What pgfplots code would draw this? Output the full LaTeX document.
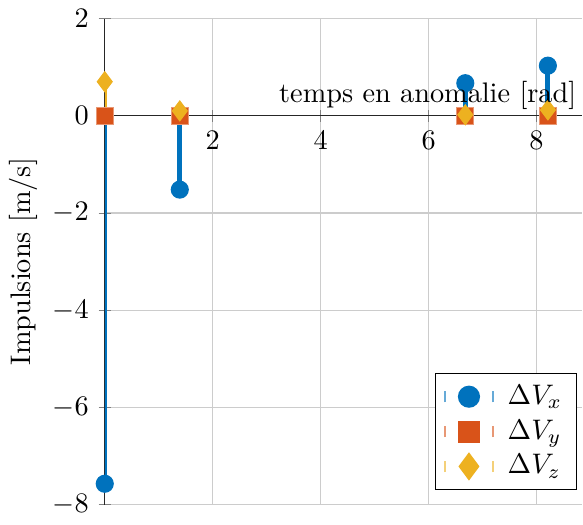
\documentclass[border=0pt]{standalone}
\usepackage{pgfplots}
\pgfplotsset{compat=1.18}
\definecolor{mycolor1}{rgb}{0,0.447,0.741}
\definecolor{mycolor2}{rgb}{0.85,0.325,0.098}
\definecolor{mycolor3}{rgb}{0.929,0.694,0.125}
\begin{document}
\begin{tikzpicture}
\begin{axis}[
  width=169pt, height=172pt, scale only axis,
  xmin=0, xmax=8.85, ymin=-8, ymax=2,
  axis x line=middle, axis y line=left,
  axis line style={-, black!85},
  xtick={2,4,6,8}, ytick={-8,-6,-4,-2,0,2},
  xmajorgrids, ymajorgrids,
  grid style={black!20},
  xlabel={temps en anomalie [rad]},
  xlabel style={at={(axis description cs:1,0.8)}, anchor=south east, inner sep=2pt},
  ylabel={Impulsions [m/s]},
  ylabel style={at={(axis description cs:-0.17,0.5)}, anchor=center},
  legend style={at={(0.988,0.03)}, anchor=south east, legend cell align=left, draw=black},
]
\addplot[ycomb, color=mycolor1, line width=1.8pt, mark=*, mark size=3pt, mark options={solid, fill=mycolor1, draw=mycolor1, line width=0.4pt},
  legend image code/.code={
    \draw[mycolor1!60, line width=0.6pt] (0cm,-0.07cm)--(0cm,0.07cm) (0.6cm,-0.07cm)--(0.6cm,0.07cm);
    \fill[mycolor1] (0.3cm,0cm) circle (3pt);
    \path (0.68cm,0cm);}]
  coordinates {(0,-7.57) (1.39,-1.52) (6.68,0.67) (8.21,1.03)};
\addlegendentry{$\Delta V_x$}
\addplot[ycomb, color=mycolor2, line width=1.8pt, mark=square*, mark size=3pt, mark options={solid, fill=mycolor2, draw=mycolor2!60, line width=0.4pt},
  legend image code/.code={
    \draw[mycolor2!60, line width=0.6pt] (0cm,-0.07cm)--(0cm,0.07cm) (0.6cm,-0.07cm)--(0.6cm,0.07cm);
    \fill[mycolor2] (0.3cm-3pt,-3pt) rectangle (0.3cm+3pt,3pt);
    \path (0.68cm,0cm);}]
  coordinates {(0,0) (1.39,0) (6.68,0) (8.21,0)};
\addlegendentry{$\Delta V_y$}
\addplot[ycomb, color=mycolor3, line width=1.8pt, mark=diamond*, mark size=3.5pt, mark options={solid, fill=mycolor3, draw=mycolor3, line width=0.4pt},
  legend image code/.code={
    \draw[mycolor3!60, line width=0.6pt] (0cm,-0.07cm)--(0cm,0.07cm) (0.6cm,-0.07cm)--(0.6cm,0.07cm);
    \fill[mycolor3] (0.3cm,-3.5pt) -- (0.3cm+2.6pt,0pt) -- (0.3cm,3.5pt) -- (0.3cm-2.6pt,0pt) -- cycle;
    \path (0.68cm,0cm);}]
  coordinates {(0,0.70) (1.39,0.10) (6.68,0.02) (8.21,0.12)};
\addlegendentry{$\Delta V_z$}
\end{axis}
\end{tikzpicture}
\end{document}
